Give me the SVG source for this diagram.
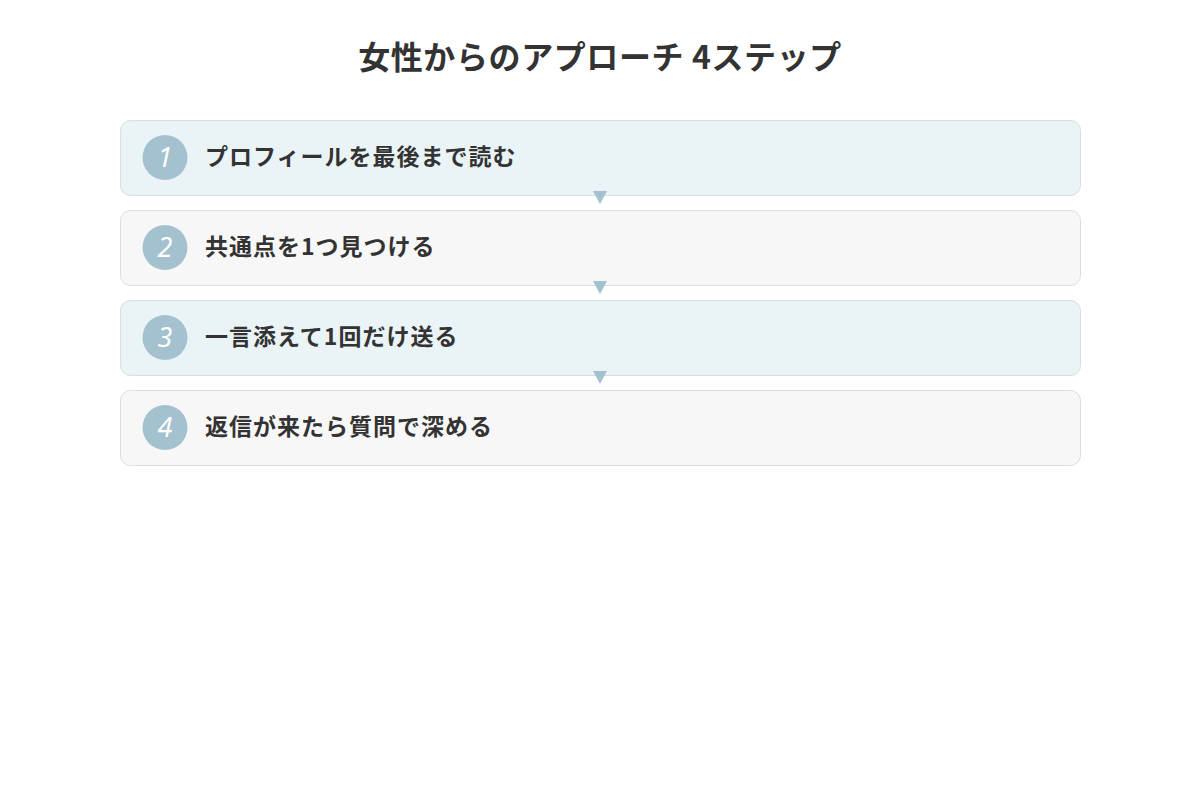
<svg xmlns="http://www.w3.org/2000/svg" width="1200" height="800" viewBox="0 0 1200 800">
<style>
.box{stroke:#dadde0;stroke-width:1}
.a{fill:#eaf3f6}
.b{fill:#f7f7f7}
.num{fill:#a3c1cf}
.nt{font-family:"Noto Sans","Noto Sans CJK JP",sans-serif;font-size:27px;font-style:italic;font-weight:400;fill:#ffffff;text-anchor:middle}
.lbl{font-family:"Noto Sans CJK JP","Noto Sans",sans-serif;font-size:23px;font-weight:700;fill:#333333;letter-spacing:1px}
.arr{fill:#a3c1cf}
</style>
<rect width="1200" height="800" fill="#ffffff"/>
<text x="600" y="69" text-anchor="middle" font-family="Noto Sans CJK JP,Noto Sans,sans-serif" font-size="32" font-weight="700" fill="#333333" letter-spacing="0.6">女性からのアプローチ 4ステップ</text>
<g id="step1">
<rect class="box a" x="120.500" y="120.500" width="960" height="75" rx="10"/>
<circle class="num" cx="165" cy="157.500" r="22.500"/>
<text class="nt" x="165" y="167">1</text>
<text class="lbl" x="205" y="165">プロフィールを最後まで読む</text>
</g>
<g id="step2">
<rect class="box b" x="120.500" y="210.500" width="960" height="75" rx="10"/>
<circle class="num" cx="165" cy="247.500" r="22.500"/>
<text class="nt" x="165" y="257">2</text>
<text class="lbl" x="205" y="255">共通点を1つ見つける</text>
</g>
<g id="step3">
<rect class="box a" x="120.500" y="300.500" width="960" height="75" rx="10"/>
<circle class="num" cx="165" cy="337.500" r="22.500"/>
<text class="nt" x="165" y="347">3</text>
<text class="lbl" x="205" y="345">一言添えて1回だけ送る</text>
</g>
<g id="step4">
<rect class="box b" x="120.500" y="390.500" width="960" height="75" rx="10"/>
<circle class="num" cx="165" cy="427.500" r="22.500"/>
<text class="nt" x="165" y="437">4</text>
<text class="lbl" x="205" y="435">返信が来たら質問で深める</text>
</g>
<g id="connectors">
<polygon class="arr" points="593,191 607,191 600,204"/>
<polygon class="arr" points="593,281 607,281 600,294"/>
<polygon class="arr" points="593,371 607,371 600,384"/>
</g>
</svg>
